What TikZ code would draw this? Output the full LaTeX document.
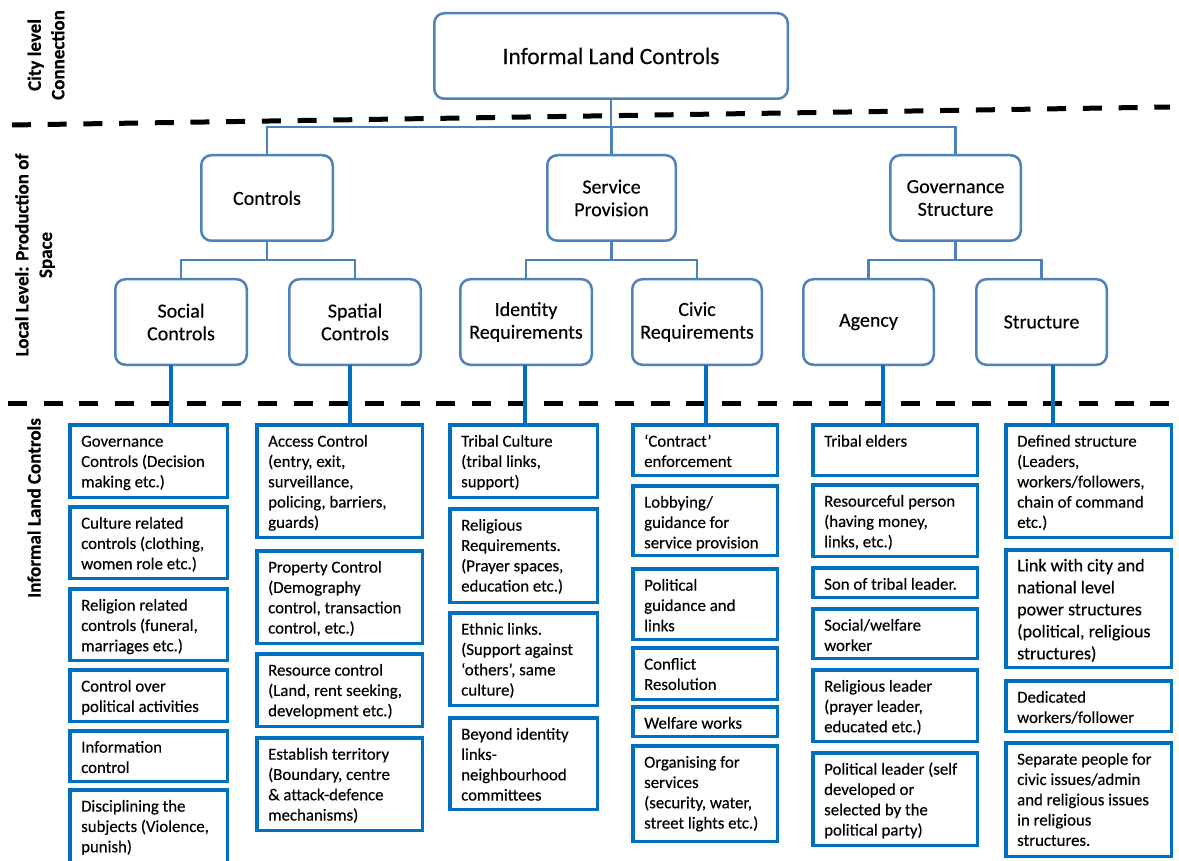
\documentclass[tikz,border=0pt]{standalone}
\usepackage{fontspec}
\setmainfont{Carlito}[FakeBold=0.5]
\newfontfamily\captionface{Carlito}[FakeBold=0.3]
\definecolor{frameblue}{RGB}{79,129,189}
\definecolor{deepblue}{RGB}{0,112,192}

% column box: name, left, top, right, bottom (outer edges), text
\newcommand{\cbx}[7][]{%
  \node[cbox, anchor=north west,
        minimum width={#5pt-#3pt-3.5pt}, minimum height={#6pt-#4pt-3.5pt}]
        (#2) at (#3+1.75,#4+1.75) {};
  \node[ctext,#1] (#2t) at ([xshift=11.25pt,yshift=-7.5pt]#2.north west) {\strut #7};}

\begin{document}
\begin{tikzpicture}[x=1pt,y=-1pt,
  rbox/.style={draw=frameblue, line width=2.5pt, rounded corners=10pt, fill=white,
               align=center, inner sep=0pt, outer sep=0pt, minimum height=85.5pt,
               font=\captionface\fontsize{20}{22.7}\selectfont},
  link/.style={draw=frameblue, line width=2.5pt},
  feed/.style={draw=deepblue, line width=4pt},
  cbox/.style={draw=deepblue, line width=3.5pt, inner sep=0pt, outer sep=0pt},
  ctext/.style={align=left, inner sep=0pt, anchor=north west,
                font=\captionface\fontsize{16.8}{20.3}\selectfont},
  divider/.style={draw=black, line width=5pt, dash pattern=on 19pt off 16.7pt},
  side/.style={rotate=90, align=center, inner sep=0pt,
               font=\bfseries\fontsize{19}{23.5}\selectfont}]

\useasboundingbox (0,0) rectangle (1179,861);
\clip (0,0) rectangle (1179,861);
\fill[white] (0,0) rectangle (1179,861);

% level dividers
\draw[divider] (12,125) -- (1170,107);
\draw[divider] (8,403) -- (1172,403);

% side captions
\node[side] (lblcity) at (46,55) {City level\\Connection};
\node[side] (lbllocal) at (35,255) {Local Level: Production of\\Space};
\node[side] (lblinf) at (34,508) {Informal Land Controls};

% top of the hierarchy
\node[rbox, minimum width=353.5pt, font=\captionface\fontsize{23.5}{27}\selectfont] (top) at (611,56) {Informal Land Controls};

% second level
\node[rbox, minimum width=131.5pt] (ctrl) at (267,198) {Controls};
\node[rbox, minimum width=128.5pt] (serv) at (611.5,198) {Service\\Provision};
\node[rbox, minimum width=130.5pt] (gov)  at (955.5,198) {Governance\\Structure};

% third level
\node[rbox, minimum width=131.5pt] (social)  at (181,322)    {Social\\Controls};
\node[rbox, minimum width=131.5pt] (spatial) at (355,322)    {Spatial\\Controls};
\node[rbox, minimum width=131.5pt] (ident)   at (526,322)    {Identity\\Requirements};
\node[rbox, minimum width=129.5pt] (civic)   at (697,322)    {Civic\\Requirements};
\node[rbox, minimum width=130.5pt] (agency)  at (868.5,322)  {Agency};
\node[rbox, minimum width=130.5pt] (struct)  at (1041.5,322) {Structure};

% tree connectors
\coordinate (b1) at (611,127);
\coordinate (b2a) at (267,260);
\coordinate (b2b) at (611.5,260);
\coordinate (b2c) at (955.5,260);
\draw[link] (top.south) -- (b1);
\draw[link] (ctrl.north) |- (b1) -| (gov.north);
\draw[link] (serv.north) -- (serv.north |- b1);
\draw[link] (ctrl.south) -- (b2a);
\draw[link] (social.north) |- (b2a) -| (spatial.north);
\draw[link] (serv.south) -- (b2b);
\draw[link] (ident.north) |- (b2b) -| (civic.north);
\draw[link] (gov.south) -- (b2c);
\draw[link] (agency.north) |- (b2c) -| (struct.north);

% column one: social controls
\cbx{c1a}{68}{423}{229}{499}{Governance\\Controls  (Decision\\making etc.)}
\cbx{c1b}{68}{505}{229}{580}{Culture  related\\controls  (clothing,\\women  role etc.)}
\cbx{c1c}{68}{587}{229}{662}{Religion  related\\controls  (funeral,\\marriages etc.)}
\cbx{c1d}{68}{668}{229}{723}{Control  over\\political  activities}
\cbx{c1e}{68}{729}{229}{783}{Information\\control}
\cbx{c1f}{68}{788}{229}{870}{Disciplining  the\\subjects (Violence,\\punish)}

% column two: spatial controls
\cbx{c2a}{255}{423}{424}{539}{Access Control\\(entry, exit,\\surveillance,\\policing,  barriers,\\guards)}
\cbx{c2b}{255}{549}{424}{645}{Property Control\\(Demography\\control,  transaction\\control,  etc.)}
\cbx{c2c}{255}{652}{424}{728}{Resource control\\(Land,  rent seeking,\\development  etc.)}
\cbx{c2d}{255}{736}{424}{832}{Establish  territory\\(Boundary,  centre\\\& attack-defence\\mechanisms)}

% column three: identity requirements
\cbx{c3a}{448}{423}{599}{499}{Tribal  Culture\\(tribal  links,\\support)}
\cbx{c3b}{448}{507}{599}{604}{Religious\\Requirements.\\(Prayer spaces,\\education  etc.)}
\cbx{c3c}{448}{611}{599}{707}{Ethnic  links.\\(Support  against\\‘others’,  same\\culture)}
\cbx{c3d}{448}{716}{599}{811}{Beyond identity\\links-\\neighbourhood\\committees}

% column four: civic requirements
\cbx{c4a}{631}{423}{779}{477}{‘Contract’\\enforcement}
\cbx{c4b}{631}{484}{779}{557}{Lobbying/\\guidance  for\\service provision}
\cbx{c4c}{631}{567}{779}{641}{Political\\guidance  and\\links}
\cbx{c4d}{631}{646}{779}{701}{Conflict\\Resolution}
\cbx{c4e}{631}{705}{779}{738}{Welfare works}
\cbx{c4f}{631}{744}{779}{843}{Organising  for\\services\\(security,  water,\\street lights  etc.)}

% column five: agency
\cbx{c5a}{811}{423}{979}{477}{Tribal  elders}
\cbx{c5b}{811}{483}{979}{558}{Resourceful  person\\(having  money,\\links,  etc.)}
\cbx{c5c}{811}{566}{979}{599}{Son of tribal  leader.}
\cbx{c5d}{811}{607}{979}{660}{Social/welfare\\worker}
\cbx{c5e}{811}{668}{979}{743}{Religious  leader\\(prayer leader,\\educated  etc.)}
\cbx{c5f}{811}{751}{979}{847}{Political  leader (self\\developed  or\\selected  by the\\political  party)}

% column six: structure
\cbx{c6a}{1004}{423}{1173}{539}{Defined  structure\\(Leaders,\\workers/followers,\\chain  of command\\etc.)}
\cbx[font=\captionface\fontsize{18}{22}\selectfont, yshift=1.5pt]{c6b}{1004}{548}{1173}{669}{Link with city and\\national level\\power structures\\(political, religious\\structures)}
\cbx{c6c}{1004}{679}{1173}{733}{Dedicated\\workers/follower}
\cbx{c6d}{1004}{741}{1173}{858}{Separate people  for\\civic  issues/admin\\and religious  issues\\in religious\\structures.}

% feeds from the third level into the columns
\coordinate (f1) at (171,400);
\coordinate (f2) at (350,400);
\coordinate (f3) at (525,400);
\coordinate (f4) at (706,400);
\coordinate (f5) at (883,400);
\coordinate (f6) at (1053,400);
\draw[feed] (social.south -| f1)  -- (c1a.north -| f1);
\draw[feed] (spatial.south -| f2) -- (c2a.north -| f2);
\draw[feed] (ident.south -| f3)   -- (c3a.north -| f3);
\draw[feed] (civic.south -| f4)   -- (c4a.north -| f4);
\draw[feed] (agency.south -| f5)  -- (c5a.north -| f5);
\draw[feed] (struct.south -| f6)  -- (c6a.north -| f6);
\end{tikzpicture}
\end{document}
